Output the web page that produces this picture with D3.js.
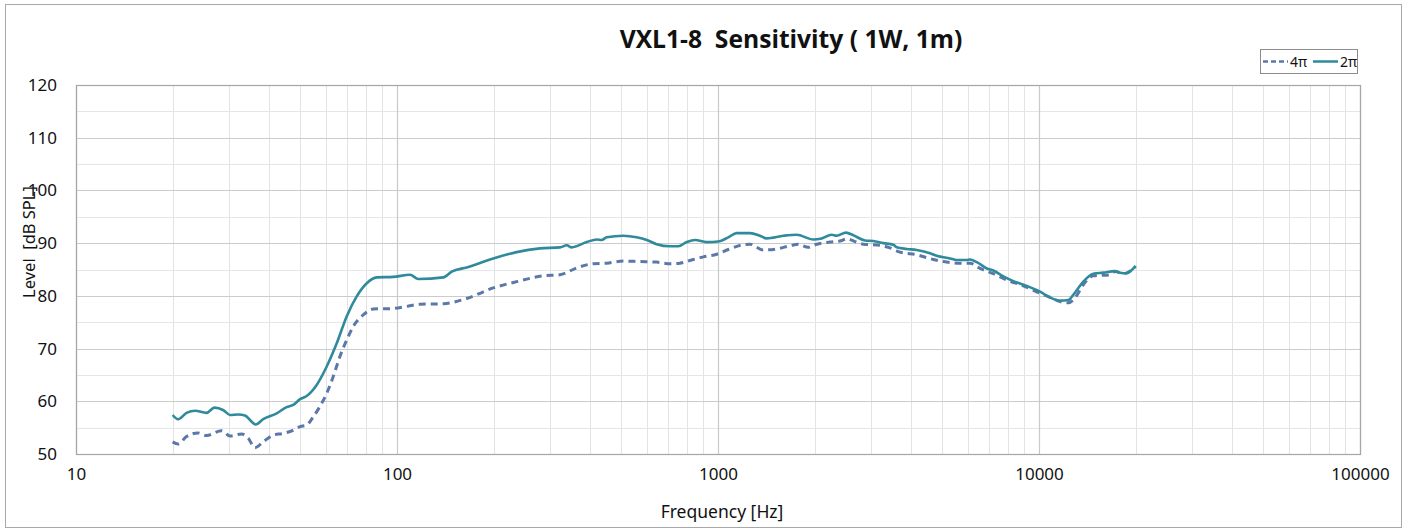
<!DOCTYPE html>
<html>
<head>
<meta charset="utf-8">
<script src="https://cdn.jsdelivr.net/npm/d3@7"></script>
<style>
  body { margin: 0; background: #fff; }
  text { font-family: "Noto Sans", "Open Sans", sans-serif; fill: #111; white-space: pre; }
</style>
</head>
<body>
<div id="chart"></div>
<script>
let chart_width = 1410;
let chart_height = 532;

let title_text = "VXL1-8  Sensitivity ( 1W, 1m)";
let x_label = "Frequency [Hz]";
let y_label = "Level  [dB SPL]";
let x_ticks = [10, 100, 1000, 10000, 100000];
let y_ticks = [50, 60, 70, 80, 90, 100, 110, 120];

// 2π (solid)
let freq_2pi = [20, 20.8, 22.1, 23.5, 25.5, 27.0, 28.8, 30.2, 32.0, 33.6, 36.3, 38.3, 42.2, 45.3, 47.5, 49.9,
    52.3, 56.2, 60.4, 64.9, 69.7, 74.9, 80.5, 86.5, 97.3, 109.8, 116.5, 139.4, 148.1, 164.9, 199.5, 236,
    279, 322, 338, 350, 390, 419, 434, 450, 507, 558, 600, 644, 709, 752, 799, 848, 922, 1002, 1077, 1143,
    1258, 1351, 1418, 1598, 1758, 1981, 2104, 2260, 2343, 2505, 2640, 2871, 3046, 3273, 3517, 3604, 3870,
    4159, 4575, 4801, 5281, 5541, 5954, 6098, 6398, 6877, 7205, 7743, 8318, 9156, 10072, 10821, 11627,
    12340, 12791, 13741, 14763, 15860, 17254, 17880, 18763, 19448, 20000];
let level_2pi = [57.4, 56.6, 57.8, 58.2, 57.8, 58.8, 58.3, 57.4, 57.5, 57.3, 55.6, 56.6, 57.7, 58.9, 59.3, 60.4,
    61.0, 63.1, 66.6, 71.0, 76.1, 79.9, 82.4, 83.5, 83.6, 84.0, 83.2, 83.5, 84.6, 85.4, 87.1, 88.3,
    89.0, 89.2, 89.6, 89.2, 90.2, 90.7, 90.6, 91.1, 91.4, 91.1, 90.6, 89.8, 89.4, 89.4, 90.2, 90.6, 90.2, 90.3, 91.1, 91.9,
    91.9, 91.4, 90.9, 91.4, 91.6, 90.7, 90.9, 91.6, 91.4, 92.0, 91.5, 90.5, 90.4, 90.0, 89.7, 89.2, 88.9,
    88.7, 88.1, 87.6, 87.1, 86.8, 86.8, 86.9, 86.4, 85.2, 84.8, 83.7, 82.8, 81.9, 80.8, 79.7, 79.1,
    79.2, 80.2, 82.7, 84.2, 84.4, 84.7, 84.4, 84.3, 84.9, 85.7];

// 4π (dashed)
let freq_4pi = [20, 20.8, 22.1, 24.0, 25.5, 28.4, 30.2, 32.8, 34.4, 36.1, 38.3, 41.2, 44.2, 47.0, 49.9, 52.3,
    54.9, 57.5, 60.4, 63.3, 66.4, 69.7, 73.1, 78.5, 84.4, 97.3, 107.2, 117.9, 139.4, 164.9, 199.5, 236,
    285.7, 322, 363, 409, 450, 507, 571, 644, 709, 761, 838, 900, 991, 1077, 1199, 1258, 1384, 1524, 1676,
    1779, 1911, 2030, 2234, 2399, 2518, 2673, 2836, 3196, 3434, 3690, 4159, 4685, 5034, 5675, 6098, 6549,
    7205, 7933, 8937, 10072, 10955, 11627, 12340, 12945, 13741, 14763, 16641, 17254, 18306, 20000];
let level_4pi = [52.3, 51.9, 53.3, 54.0, 53.5, 54.4, 53.4, 53.8, 53.0, 51.2, 52.3, 53.6, 53.9, 54.4, 55.2, 55.5,
    57.1, 59.0, 61.5, 64.7, 68.5, 71.6, 74.2, 76.4, 77.5, 77.6, 78.0, 78.4, 78.5, 79.5, 81.5, 82.7,
    83.8, 84.0, 85.3, 86.1, 86.2, 86.6, 86.5, 86.4, 86.1, 86.2, 86.9, 87.4, 87.9, 88.8, 89.7, 89.8, 88.7, 88.9, 89.5,
    89.8, 89.2, 89.8, 90.2, 90.4, 90.8, 90.3, 89.8, 89.6, 89.1, 88.3, 87.8, 86.9, 86.5, 86.2, 86.2, 85.2,
    84.2, 83.0, 81.9, 80.5, 79.6, 78.9, 78.7, 79.6, 82.1, 83.8, 84.0, 84.6, 84.2, 85.5];

let color_2pi = "#2f8a9c";
let color_4pi = "#5b78a8";

let svg = d3.select("#chart")
    .append("svg")
    .attr("width", chart_width)
    .attr("height", chart_height);

// outer chart border
svg.append("rect")
    .attr("x", 5.5).attr("y", 4.5)
    .attr("width", 1396).attr("height", 523)
    .attr("fill", "none")
    .attr("stroke", "#a8a8a8")
    .attr("stroke-width", 1);

let plot_left = 76, plot_right = 1360, plot_top = 85, plot_bottom = 454;

let xScale = d3.scaleLog()
    .domain([10, 100000])
    .range([plot_left, plot_right]);

let yScale = d3.scaleLinear()
    .domain([50, 120])
    .range([plot_bottom, plot_top]);

let grid = svg.append("g");

// minor vertical lines
let minor_x = [];
for (let dec = 10; dec < 100000; dec *= 10) {
    for (let m = 2; m <= 9; m++) minor_x.push(dec * m);
}
grid.selectAll(".vminor")
    .data(minor_x)
    .enter()
    .append("line")
    .attr("x1", function(d) { return Math.round(xScale(d)) + 0.5; })
    .attr("x2", function(d) { return Math.round(xScale(d)) + 0.5; })
    .attr("y1", plot_top)
    .attr("y2", plot_bottom)
    .attr("stroke", "#e3e3e3")
    .attr("stroke-width", 1);

// minor horizontal lines
let minor_y = d3.range(55, 120, 10);
grid.selectAll(".hminor")
    .data(minor_y)
    .enter()
    .append("line")
    .attr("x1", plot_left)
    .attr("x2", plot_right)
    .attr("y1", function(d) { return Math.round(yScale(d)) + 0.5; })
    .attr("y2", function(d) { return Math.round(yScale(d)) + 0.5; })
    .attr("stroke", "#e6e6e6")
    .attr("stroke-width", 1);

// major lines
grid.selectAll(".vmajor")
    .data(x_ticks)
    .enter()
    .append("line")
    .attr("x1", function(d) { return Math.round(xScale(d)) + 0.5; })
    .attr("x2", function(d) { return Math.round(xScale(d)) + 0.5; })
    .attr("y1", plot_top)
    .attr("y2", plot_bottom)
    .attr("stroke", "#c9c9c9")
    .attr("stroke-width", 1.2);

grid.selectAll(".hmajor")
    .data(y_ticks)
    .enter()
    .append("line")
    .attr("x1", plot_left)
    .attr("x2", plot_right)
    .attr("y1", function(d) { return Math.round(yScale(d)) + 0.5; })
    .attr("y2", function(d) { return Math.round(yScale(d)) + 0.5; })
    .attr("stroke", "#cbcbcb")
    .attr("stroke-width", 1.2);

// plot frame
svg.append("rect")
    .attr("x", plot_left + 0.5).attr("y", plot_top + 0.5)
    .attr("width", plot_right - plot_left).attr("height", plot_bottom - plot_top)
    .attr("fill", "none")
    .attr("stroke", "#a6a6a6")
    .attr("stroke-width", 1.2);

// axes (labels only)
let x_axis = svg.append("g")
    .attr("transform", "translate(0," + (plot_bottom + 11) + ")")
    .call(d3.axisBottom(xScale).tickValues(x_ticks).tickFormat(d3.format("d")).tickSize(0));
x_axis.select(".domain").remove();
x_axis.selectAll("text")
    .style("font-size", "17px")
    .style("font-family", "'Noto Sans', sans-serif")
    .attr("fill", "#111");

let y_axis = svg.append("g")
    .attr("transform", "translate(" + (plot_left - 19) + ",0)")
    .call(d3.axisLeft(yScale).tickValues(y_ticks).tickSize(0));
y_axis.select(".domain").remove();
y_axis.selectAll("text")
    .style("font-size", "17px")
    .style("font-family", "'Noto Sans', sans-serif")
    .attr("x", 0)
    .attr("fill", "#111");

// curves
let chart_line = d3.line()
    .x(function(d) { return xScale(d[0]); })
    .y(function(d) { return yScale(d[1]); })
    .curve(d3.curveMonotoneX);

let line_data = [
    { "method": "4pi", "values": d3.zip(freq_4pi, level_4pi), "color": color_4pi, "dash": "7,5", "width": 3 },
    { "method": "2pi", "values": d3.zip(freq_2pi, level_2pi), "color": color_2pi, "dash": null, "width": 2.6 }
];

svg.append("g").selectAll("path")
    .data(line_data)
    .enter()
    .append("path")
    .attr("d", function(d) { return chart_line(d["values"]); })
    .attr("fill", "none")
    .attr("stroke", function(d) { return d["color"]; })
    .attr("stroke-width", function(d) { return d["width"]; })
    .attr("stroke-dasharray", function(d) { return d["dash"]; })
    .attr("stroke-linejoin", "round");

// title, fitted to the reference width
let title = svg.append("text")
    .attr("x", 791)
    .attr("y", 48)
    .attr("text-anchor", "middle")
    .style("font-family", "'Open Sans', sans-serif")
    .style("font-weight", "bold")
    .style("font-size", "24px")
    .text(title_text);
let tw = title.node().getComputedTextLength();
title.style("font-size", (24 * 343 / tw) + "px");

// axis titles
svg.append("text")
    .attr("x", 722)
    .attr("y", 518)
    .attr("text-anchor", "middle")
    .style("font-size", "17.5px")
    .text(x_label);

svg.append("text")
    .attr("text-anchor", "middle")
    .attr("transform", "translate(35,242) rotate(-90)")
    .style("font-size", "16.5px")
    .text(y_label);

// legend
let legend = svg.append("g");
legend.append("rect")
    .attr("x", 1260.5).attr("y", 49.5)
    .attr("width", 97).attr("height", 24)
    .attr("fill", "#fff")
    .attr("stroke", "#8c8c8c")
    .attr("stroke-width", 1);

let legend_data = [
    { "text": "4π", "x": 1263, "color": color_4pi, "dash": "5,3", "width": 2.5 },
    { "text": "2π", "x": 1313, "color": color_2pi, "dash": null, "width": 2.5 }
];
let items = legend.selectAll(".item")
    .data(legend_data)
    .enter()
    .append("g");
items.append("line")
    .attr("x1", function(d) { return d.x; })
    .attr("x2", function(d) { return d.x + 25; })
    .attr("y1", 61.5)
    .attr("y2", 61.5)
    .attr("stroke", function(d) { return d.color; })
    .attr("stroke-width", function(d) { return d.width; })
    .attr("stroke-dasharray", function(d) { return d.dash; });
items.append("text")
    .attr("x", function(d) { return d.x + 27; })
    .attr("y", 66.5)
    .style("font-size", "14px")
    .text(function(d) { return d.text; });
</script>
</body>
</html>
